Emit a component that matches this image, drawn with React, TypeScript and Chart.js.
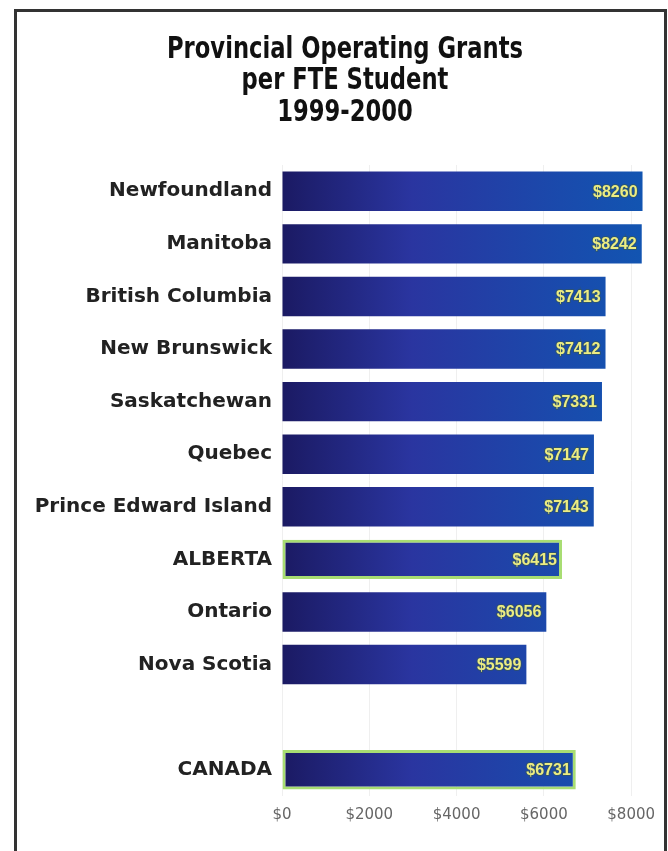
import React, { useEffect, useRef } from "react";
import { Chart, registerables } from "chart.js";

Chart.register(...registerables);

const categories = [
  "Newfoundland",
  "Manitoba",
  "British Columbia",
  "New Brunswick",
  "Saskatchewan",
  "Quebec",
  "Prince Edward Island",
  "ALBERTA",
  "Ontario",
  "Nova Scotia",
  "",
  "CANADA",
];
const grants: (number | null)[] = [8260, 8242, 7413, 7412, 7331, 7147, 7143, 6415, 6056, 5599, null, 6731];
const highlighted = ["ALBERTA", "CANADA"];
const xTickValues = [0, 2000, 4000, 6000, 8000];
const xMax = 8500;
const titleLines = ["Provincial Operating Grants", "per FTE Student", "1999-2000"];

const titlePlugin = {
  id: "condensedTitle",
  afterDraw(chart: any) {
    const ctx = chart.ctx;
    ctx.save();
    ctx.font = "bold 30px 'DejaVu Sans Condensed', 'DejaVu Sans', sans-serif";
    ctx.textAlign = "center";
    ctx.textBaseline = "middle";
    ctx.fillStyle = "#111";
    const cx = 345;
    const top = 50;
    const step = 31.5;
    titleLines.forEach((line, i) => {
      ctx.setTransform(0.84, 0, 0, 1, cx, top + i * step);
      ctx.fillText(line, 0, 0);
    });
    ctx.restore();
  },
};

const valueLabelPlugin = {
  id: "valueLabels",
  afterDatasetsDraw(chart: any) {
    const ctx = chart.ctx;
    const meta = chart.getDatasetMeta(0);
    ctx.save();
    ctx.font = "bold 16px 'Liberation Sans', Arial, sans-serif";
    ctx.textAlign = "right";
    ctx.textBaseline = "middle";
    meta.data.forEach((bar: any, i: number) => {
      const v = grants[i];
      if (v == null) return;
      const text = "$" + v;
      ctx.lineWidth = 2;
      ctx.strokeStyle = "rgba(60,90,70,0.55)";
      ctx.strokeText(text, bar.x - 5, bar.y + 1);
      ctx.fillStyle = "#ecec82";
      ctx.fillText(text, bar.x - 5, bar.y + 1);
    });
    ctx.restore();
  },
};

export default function App() {
  const ref = useRef<HTMLCanvasElement>(null);

  useEffect(() => {
    if (!ref.current) return;
    document.body.style.overflow = "hidden";
    const chart = new Chart(ref.current, {
      type: "bar",
      data: {
        labels: categories,
        datasets: [
          {
            data: grants as any,
            backgroundColor: (c: any) => {
              const area = c.chart.chartArea;
              if (!area) return "#1a3a9a";
              const g = c.chart.ctx.createLinearGradient(area.left, 0, area.right, 0);
              g.addColorStop(0, "#1b1a63");
              g.addColorStop(0.35, "#2a35a0");
              g.addColorStop(0.75, "#1a4aac");
              g.addColorStop(1, "#1156b2");
              return g;
            },
            borderColor: categories.map((c) => (highlighted.includes(c) ? "#a8dd72" : "rgba(0,0,0,0)")),
            borderWidth: categories.map((c) => (highlighted.includes(c) ? 3 : 0)),
            borderSkipped: false,
            barPercentage: 0.75,
            categoryPercentage: 1,
          },
        ],
      },
      options: {
        indexAxis: "y",
        responsive: false,
        animation: false,
        events: [],
        layout: { padding: { left: 0, right: 15, top: 165, bottom: 17 } },
        plugins: {
          legend: { display: false },
          tooltip: { enabled: false },
          title: { display: false },
        },
        scales: {
          x: {
            min: 0,
            max: xMax,
            afterBuildTicks: (scale: any) => {
              scale.ticks = xTickValues.map((v) => ({ value: v }));
            },
            grid: { color: "#efefef", drawTicks: false },
            border: { display: false },
            ticks: {
              color: "#666",
              font: { family: "'DejaVu Sans', sans-serif", size: 15 },
              padding: 10,
              callback: (v: any) => "$" + v,
            },
          },
          y: {
            afterFit: (scale: any) => {
              scale.width = 282;
            },
            grid: { display: false, drawTicks: false },
            border: { display: false },
            ticks: {
              color: "#222",
              font: { family: "'DejaVu Sans', sans-serif", size: 20, weight: "bold" },
              padding: 10,
            },
          },
        },
      },
      plugins: [valueLabelPlugin, titlePlugin],
    });
    return () => chart.destroy();
  }, []);

  return (
    <div style={{ position: "fixed", left: 0, top: 0, width: 668, height: 851, background: "#fff" }}>
      <div
        style={{
          position: "absolute",
          left: 14,
          top: 9,
          width: 647,
          height: 860,
          borderTop: "3px solid #333",
          borderLeft: "3px solid #333",
          borderRight: "3px solid #333",
        }}
      />
      <canvas ref={ref} width={668} height={851} style={{ position: "absolute", left: 0, top: 0 }} />
    </div>
  );
}
